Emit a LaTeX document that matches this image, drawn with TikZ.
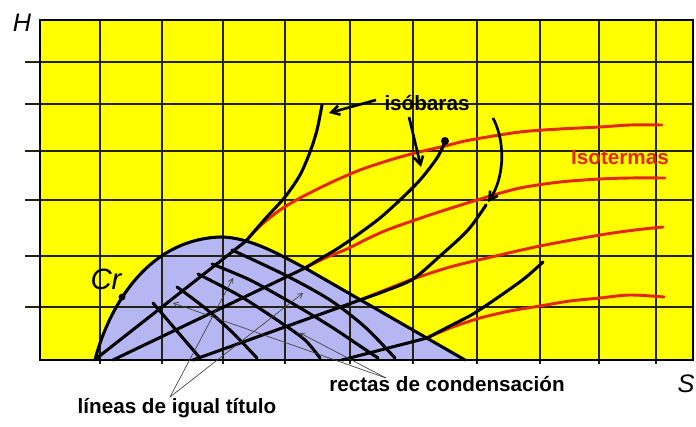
\documentclass[tikz,border=0pt]{standalone}
\usepackage{fontspec}
\setmainfont{Liberation Sans}
\usetikzlibrary{arrows.meta}
\definecolor{chartyellow}{RGB}{255,255,0}
\definecolor{domeblue}{RGB}{182,182,242}
\definecolor{isored}{RGB}{228,38,12}
\definecolor{gridink}{RGB}{35,35,20}

\begin{document}
\begin{tikzpicture}[x=0.75pt,y=-0.75pt,
    gridrule/.style={line width=1.1pt, color=gridink},
    frame/.style={line width=2.2pt, color=black},
    isobara/.style={line width=2.3pt, color=black, line cap=round},
    isoterma/.style={line width=2.2pt, color=isored, line cap=round},
    pointer/.style={line width=0.5pt, color=black!75, -{Straight Barb[length=3.5pt,width=4pt]}},
    bigpointer/.style={line width=2pt, color=black, -{Straight Barb[length=6pt,width=7pt]}},
    lbl/.style={font=\fontsize{15.5}{18}\selectfont\bfseries, inner sep=0pt},
    axis/.style={font=\fontsize{19}{22}\selectfont\itshape, inner sep=0pt}]

    \useasboundingbox (0,0) rectangle (696,427);

    %Coloring
    \fill[chartyellow] (40,20) rectangle (693,360); %Chart background
    \fill[domeblue] (95,360) .. controls (105,320) and (140,240) .. (220,237) .. controls (250,237) and (280,255) .. (305,268) -- (465,360) -- cycle; %Wet region

    %Grid
    \foreach \x in {100,162,223,285,350,413,477,540,599,656}
        \draw[gridrule] (\x,20) -- (\x,364); %Vertical lines and ticks
    \foreach \y in {62,104,151,200,256,307}
        \draw[gridrule] (25,\y) -- (693,\y); %Horizontal lines and ticks

    %Isotherms
    \draw[isoterma] plot[smooth] coordinates {(246,241) (260,226) (280,210) (300,198) (330,183) (360,170) (390,160) (415,153) (445,146) (470,140) (520,132) (560,129) (600,127) (630,125) (662,125)};
    \draw[isoterma] plot[smooth] coordinates {(305,268) (325,258) (347,249) (367,239) (387,230) (415,220) (445,210) (487,197) (520,188) (560,182) (600,179) (630,178) (665,178)};
    \draw[isoterma] plot[smooth] coordinates {(360,300) (385,290) (413,279) (450,267) (487,258) (540,246) (600,235) (635,230) (663,227)};
    \draw[isoterma] plot[smooth] coordinates {(427,338) (450,328) (480,318) (510,311) (540,306) (570,301) (600,298) (630,295) (664,297)};

    %Isobars (condensation lines and their continuation)
    \draw[isobara] (97,358) -- plot[smooth] coordinates {(246,241) (265,219) (285,197) (300,175) (310,152) (317,130) (322,105)};
    \draw[isobara] (113,360) -- plot[smooth] coordinates {(305,268) (320,259) (340,247) (360,233) (380,218) (400,200) (420,180) (437,158) (445,142)};
    \draw[isobara] (193,360) -- plot[smooth] coordinates {(360,300) (385,291) (413,279) (440,256) (468,230) (486,205)};
    \draw[isobara] (342,360) -- plot[smooth] coordinates {(427,338) (450,326) (473,314) (500,296) (525,278) (543,262)};
    \fill (445,141) circle (3pt); %End dot

    %Lines of equal quality
    \draw[isobara] plot[smooth] coordinates {(153,303) (176,330) (200,358)};
    \draw[isobara] plot[smooth] coordinates {(177,287) (205,308) (232,332) (257,358)};
    \draw[isobara] plot[smooth] coordinates {(198,274) (240,296) (280,322) (305,340) (320,358)};
    \draw[isobara] plot[smooth] coordinates {(212,264) (250,280) (290,302) (330,326) (360,346) (378,358)};
    \draw[isobara] plot[smooth] coordinates {(232,250) (287,276) (330,300) (365,327) (395,358)};

    %Saturation curve
    \draw[isobara] (95,360) .. controls (105,320) and (140,240) .. (220,237) .. controls (250,237) and (280,255) .. (305,268) -- (465,360);
    \fill (122,297) circle (2.6pt); %Critical point

    %Frame
    \draw[frame] (40,20) rectangle (693,360);

    %Labels
    \node[axis] (hlbl) at (22,23) {H};
    \node[axis] (slbl) at (686,384) {S};
    \node[axis, font=\fontsize{22}{24}\selectfont\itshape] (crlbl) at (106,279) {Cr};
    \node[lbl] (isob) at (427,103) {isóbaras};
    \node[lbl, text=isored] (isot) at (620,157) {Isotermas};
    \node[lbl] (igual) at (177,408) {líneas de igual título};
    \node[lbl] (rectas) at (447,384) {rectas de condensación};

    %Pointers of isobars
    \coordinate (a1s) at (376,100);
    \coordinate (a1e) at (329,113);
    \coordinate (a2s) at (409,117);
    \coordinate (a2e) at (421,167);
    \coordinate (a3s) at (493,118);
    \coordinate (a3e) at (488,202);
    \draw[bigpointer] (a1s) -- (a1e);
    \draw[bigpointer] (a2s) -- (a2e);
    \draw[bigpointer] (a3s) .. controls (507,145) and (503,180) .. (a3e);

    %Pointers of the lower labels
    \coordinate (igtop) at (170,397);
    \coordinate (retop) at (386,378);
    \draw[pointer] (igtop) -- (233,278);
    \draw[pointer] (igtop) -- (303,293);
    \draw[pointer] (retop) -- (173,303);
    \draw[pointer] (retop) -- (300,333);

\end{tikzpicture}
\end{document}
